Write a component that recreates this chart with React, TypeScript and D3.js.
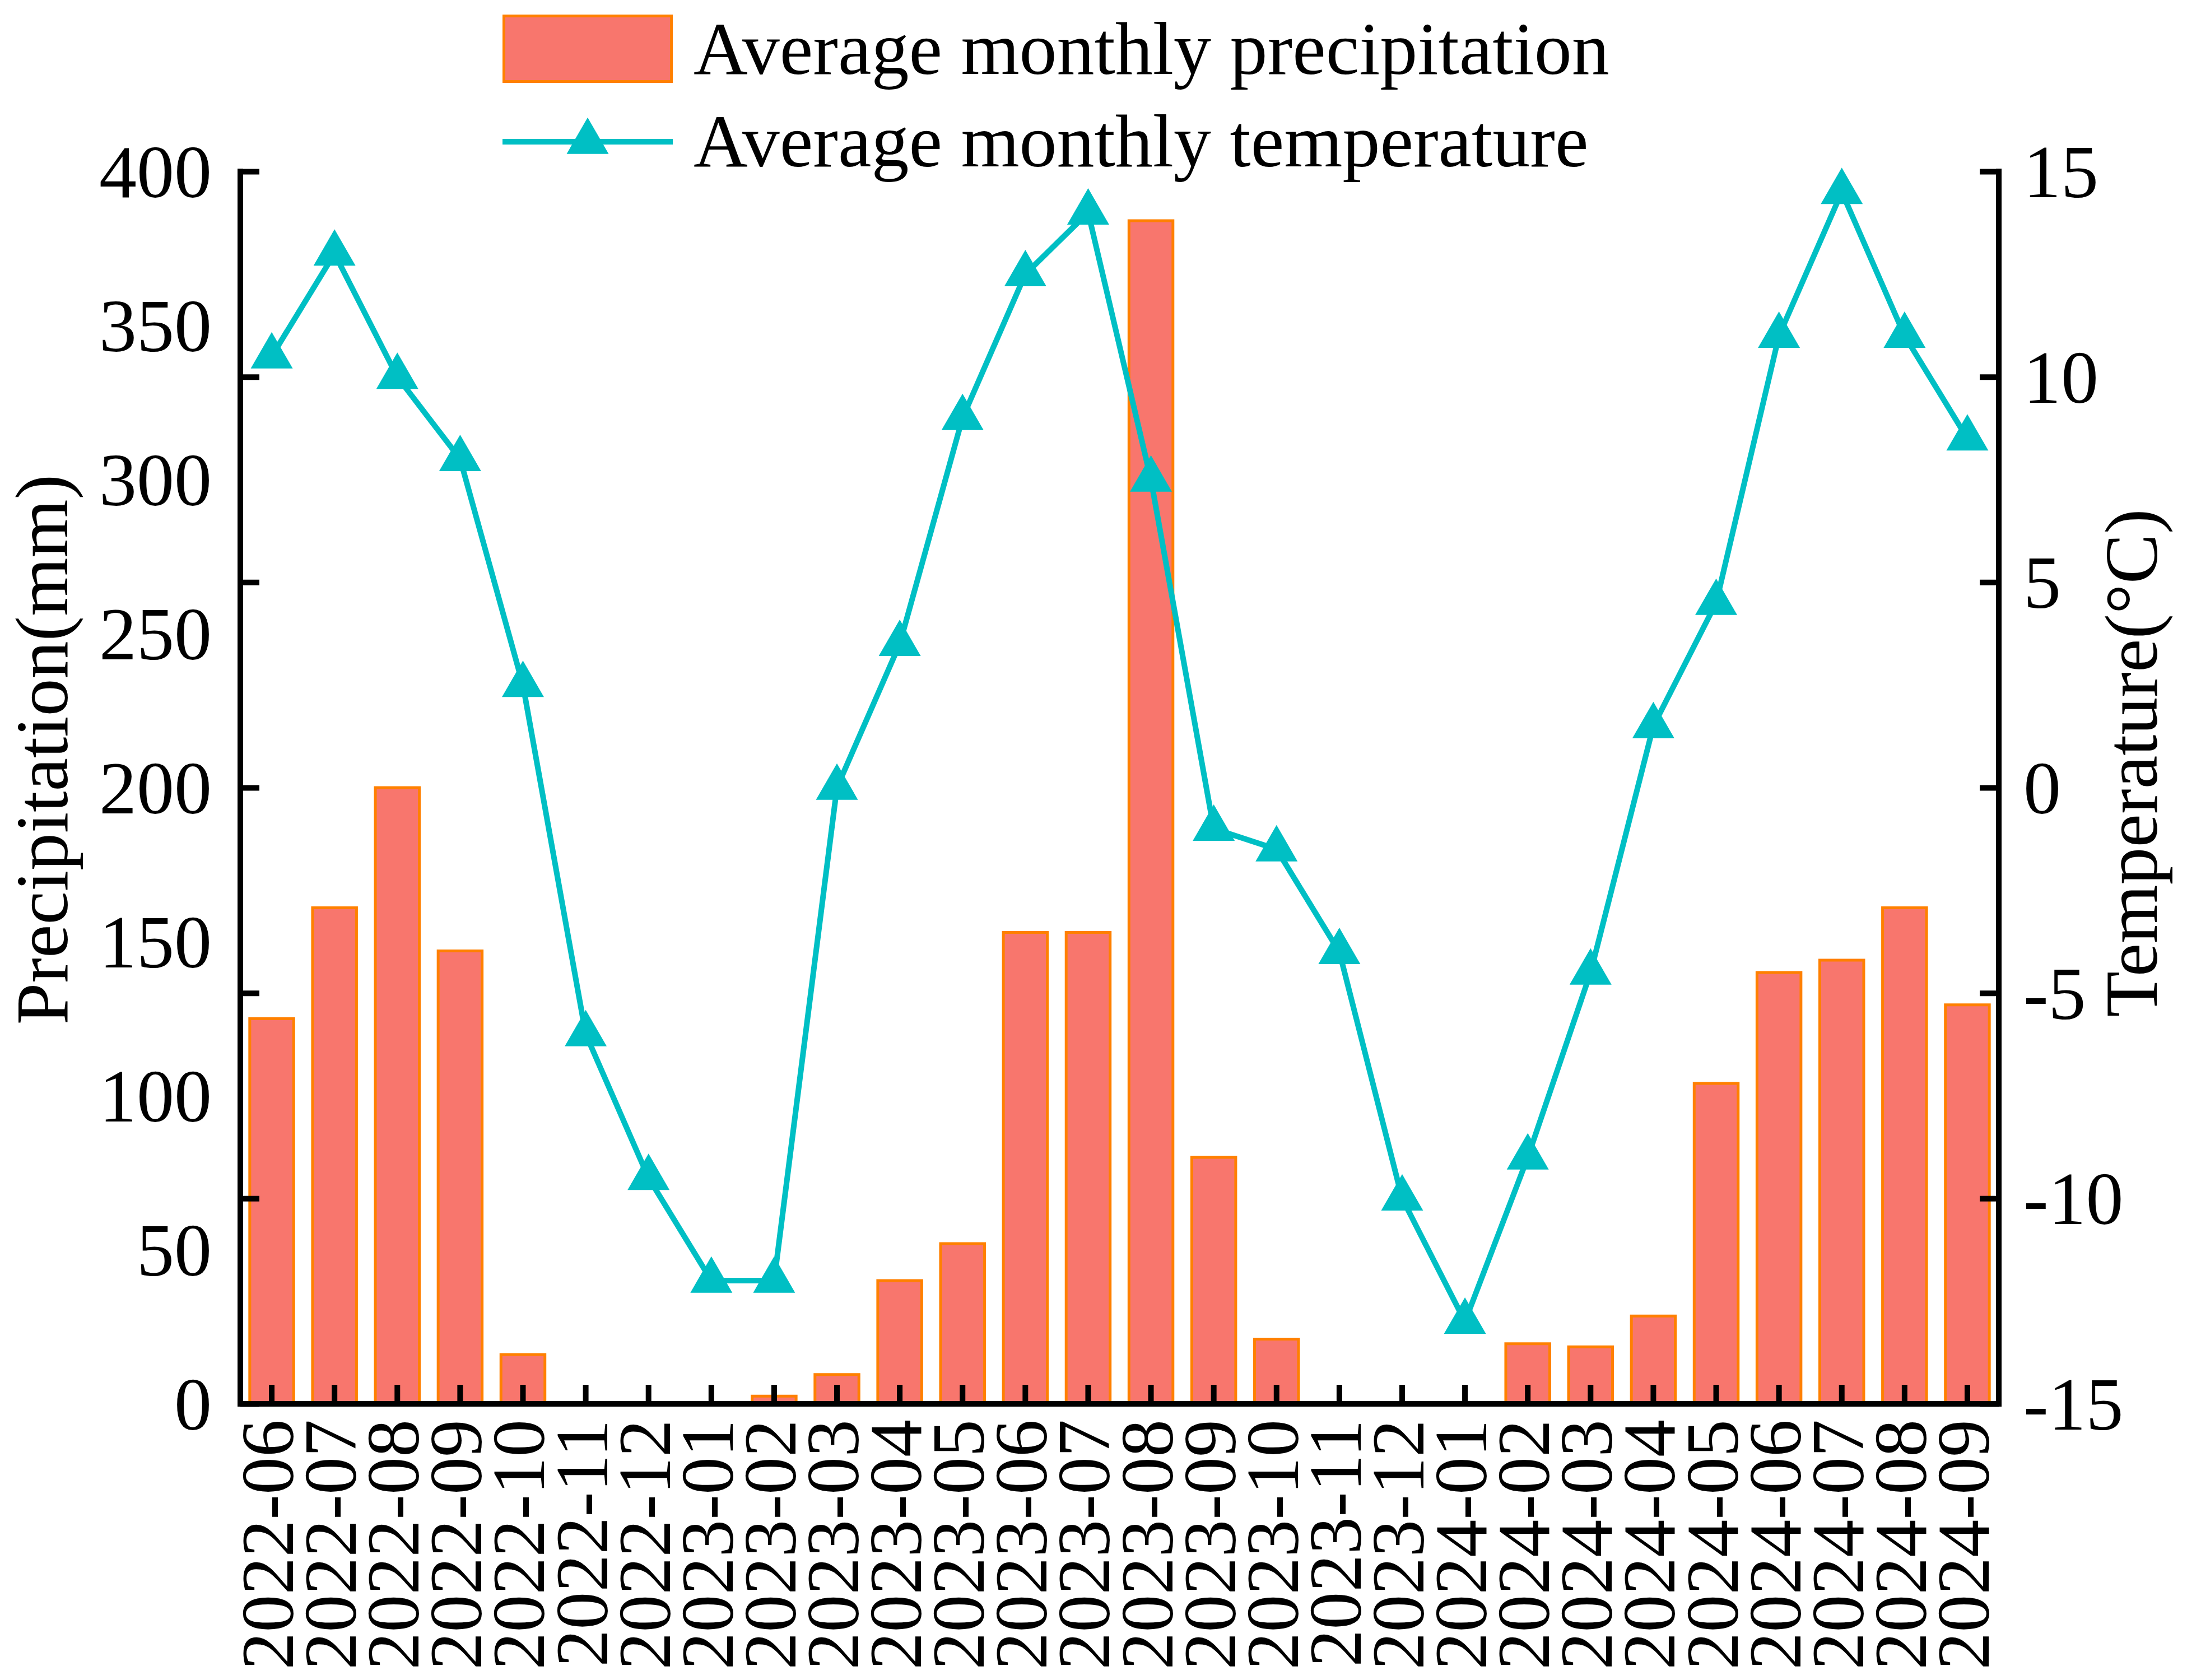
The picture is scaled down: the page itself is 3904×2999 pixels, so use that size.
import React, { useEffect, useRef } from "react";
import * as d3 from "d3";

// x categories
const months = [
  "2022-06", "2022-07", "2022-08", "2022-09", "2022-10", "2022-11", "2022-12",
  "2023-01", "2023-02", "2023-03", "2023-04", "2023-05", "2023-06", "2023-07",
  "2023-08", "2023-09", "2023-10", "2023-11", "2023-12",
  "2024-01", "2024-02", "2024-03", "2024-04", "2024-05", "2024-06", "2024-07",
  "2024-08", "2024-09",
];

// average monthly precipitation (mm), left axis
const precipitation = [
  125, 161, 200, 147, 16, 0, 0,
  0, 2.5, 9.5, 40, 52, 153, 153, 384, 80, 21, 0, 0,
  0, 19.5, 18.5, 28.5, 104, 140, 144, 161, 129.5,
];

// average monthly temperature (°C), right axis
const temperature = [
  10.5, 13, 10, 8, 2.5, -6, -9.5,
  -12, -12, 0, 3.5, 9, 12.5, 14, 7.5, -1, -1.5, -4, -10,
  -13, -9, -4.5, 1.5, 4.5, 11, 14.5, 11, 8.5,
];

const precipTicks = [0, 50, 100, 150, 200, 250, 300, 350, 400];
const tempTicks = [-15, -10, -5, 0, 5, 10, 15];
const legendLabels = ["Average monthly precipitation", "Average monthly temperature"];

const App = () => {
  const width = 3904,
    height = 2999;
  const ref = useRef<SVGGElement>(null);

  useEffect(() => {
    document.body.style.margin = "0";
    const svg = d3.select(ref.current);
    svg.selectAll("*").remove();

    const font = "'Times New Roman', 'Liberation Serif', serif";
    const fs = 134;
    const left = 429,
      right = 3568,
      top = 306,
      bottom = 2506;
    const barFill = "#F8766D",
      barStroke = "#FF8000",
      lineColor = "#00BFC4";
    const triangle = d3.symbol(d3.symbolTriangle, 2435);

    const x = d3
      .scaleBand()
      .domain(months)
      .range([left, right])
      .paddingInner(0.3)
      .paddingOuter(0.15);
    const yP = d3.scaleLinear().domain([0, 400]).range([bottom, top]);
    const yT = d3.scaleLinear().domain([-15, 15]).range([bottom, top]);
    const cx = (m: string) => (x(m) as number) + x.bandwidth() / 2;

    // bars
    svg
      .append("g")
      .selectAll("rect")
      .data(months.filter((_, i) => precipitation[i] > 0))
      .join("rect")
      .attr("x", (d) => x(d) as number)
      .attr("y", (d) => yP(precipitation[months.indexOf(d)]))
      .attr("width", x.bandwidth())
      .attr("height", (d) => bottom - yP(precipitation[months.indexOf(d)]))
      .attr("fill", barFill)
      .attr("stroke", barStroke)
      .attr("stroke-width", 5);

    // bottom ticks + rotated month labels
    const gx = svg
      .append("g")
      .attr("transform", `translate(0,${bottom})`)
      .call(d3.axisBottom(x).tickSize(-34).tickSizeOuter(0));
    gx.select(".domain").remove();
    gx.selectAll("line").attr("stroke", "#000").attr("stroke-width", 10);
    gx.selectAll("text")
      .attr("transform", "rotate(-90)")
      .attr("x", -28)
      .attr("y", 38)
      .attr("dy", null)
      .attr("text-anchor", "end")
      .attr("font-family", font)
      .attr("font-size", fs)
      .attr("fill", "#000");

    // left tick marks (follow the temperature ticks, as in the original)
    const gl = svg
      .append("g")
      .attr("transform", `translate(${left},0)`)
      .call(
        d3.axisLeft(yT).tickValues(tempTicks).tickSize(-34).tickSizeOuter(0).tickFormat(() => "")
      );
    gl.select(".domain").remove();
    gl.selectAll("line").attr("stroke", "#000").attr("stroke-width", 10);

    // left labels
    const glt = svg
      .append("g")
      .attr("transform", `translate(${left},0)`)
      .call(
        d3.axisLeft(yP).tickValues(precipTicks).tickSize(0).tickPadding(51).tickFormat((d) => String(d))
      );
    glt.select(".domain").remove();
    glt.selectAll("line").remove();
    glt.selectAll("text")
      .attr("font-family", font)
      .attr("font-size", fs)
      .attr("dy", "0.34em")
      .attr("fill", "#000");

    // right axis
    const gr = svg
      .append("g")
      .attr("transform", `translate(${right},0)`)
      .call(
        d3.axisRight(yT).tickValues(tempTicks).tickSize(-34).tickSizeOuter(0).tickPadding(44).tickFormat((d) => String(d))
      );
    gr.select(".domain").remove();
    gr.selectAll("line").attr("stroke", "#000").attr("stroke-width", 10);
    gr.selectAll("text")
      .attr("font-family", font)
      .attr("font-size", fs)
      .attr("dy", "0.34em")
      .attr("fill", "#000");

    // axis lines
    const axes = svg.append("g").attr("stroke", "#000").attr("stroke-width", 10);
    axes.append("line").attr("x1", left).attr("x2", left).attr("y1", top - 5).attr("y2", bottom);
    axes.append("line").attr("x1", right).attr("x2", right).attr("y1", top - 5).attr("y2", bottom);
    axes.append("line").attr("x1", left - 5).attr("x2", right + 5).attr("y1", bottom).attr("y2", bottom);

    // temperature line
    svg
      .append("path")
      .datum(temperature)
      .attr("fill", "none")
      .attr("stroke", lineColor)
      .attr("stroke-width", 10)
      .attr("stroke-linejoin", "round")
      .attr(
        "d",
        d3
          .line<number>()
          .x((_, i) => cx(months[i]))
          .y((d) => yT(d))
      );

    svg
      .append("g")
      .selectAll("path")
      .data(temperature)
      .join("path")
      .attr("transform", (d, i) => `translate(${cx(months[i])},${yT(d)})`)
      .attr("d", triangle())
      .attr("fill", lineColor);

    // axis titles
    svg
      .append("text")
      .attr("transform", "translate(120,1338) rotate(-90)")
      .attr("text-anchor", "middle")
      .attr("font-family", font)
      .attr("font-size", fs)
      .text("Precipitation(mm)");
    svg
      .append("text")
      .attr("transform", "translate(3850,1362) rotate(-90)")
      .attr("text-anchor", "middle")
      .attr("font-family", font)
      .attr("font-size", fs)
      .text("Temperature(°C)");

    // legend
    const lg = svg.append("g");
    lg.append("rect")
      .attr("x", 899.5)
      .attr("y", 28.5)
      .attr("width", 299)
      .attr("height", 117)
      .attr("fill", barFill)
      .attr("stroke", barStroke)
      .attr("stroke-width", 5);
    lg.append("line")
      .attr("x1", 897)
      .attr("x2", 1201)
      .attr("y1", 253)
      .attr("y2", 253)
      .attr("stroke", lineColor)
      .attr("stroke-width", 10);
    lg.append("path")
      .attr("transform", "translate(1049,253)")
      .attr("d", triangle())
      .attr("fill", lineColor);
    lg.selectAll("text.lbl")
      .data(legendLabels)
      .join("text")
      .attr("class", "lbl")
      .attr("x", 1238)
      .attr("y", (_, i) => (i === 0 ? 132 : 297))
      .attr("font-family", font)
      .attr("font-size", fs)
      .text((d) => d);
  }, []);

  return (
    <svg width={width} height={height} style={{ display: "block", background: "#fff" }}>
      <g ref={ref} />
    </svg>
  );
};

export default App;
